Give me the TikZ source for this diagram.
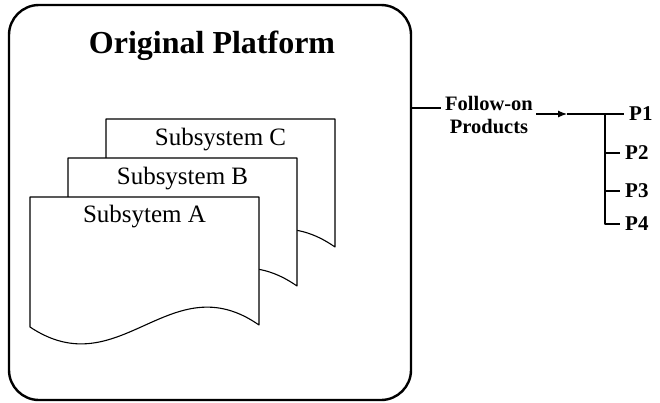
\documentclass[tikz,border=0pt]{standalone}
\usepackage{fontspec}
\setmainfont{Liberation Serif}
\usetikzlibrary{arrows.meta}

\tikzset{
  frameline/.style={line width=2.4pt},
  thinline/.style={line width=1.1pt},
  sheettext/.style={font=\fontsize{25}{30}\selectfont, anchor=base, inner sep=0pt},
  prodlabel/.style={font=\bfseries\fontsize{21}{24}\selectfont, anchor=west, inner xsep=5pt, inner ysep=0pt},
  % one document sheet with a wavy lower edge; origin at its top-left corner
  sheet/.pic={
    \path[draw, fill=white, thinline]
      (0,0) -- (229,0) -- (229,128)
      .. controls (140,66) and (90,190) .. (0,130) -- cycle;
  }
}

\begin{document}
\begin{tikzpicture}[x=1pt, y=-1pt, line join=round]
  \useasboundingbox (0,0) rectangle (660,402);

  % platform frame
  \node[draw, frameline, rounded corners=30pt,
        minimum width=402pt, minimum height=395pt, inner sep=0pt]
        (platform) at (210,202.5) {};
  \node[font=\bfseries\fontsize{32}{38}\selectfont, anchor=base, inner sep=0pt]
        (title) at (212,53) {Original Platform};

  % stacked subsystem sheets, back to front
  \pic at (106,119) {sheet};
  \node[sheettext] (subC) at (220.5,145) {Subsystem C};
  \pic at (68,158) {sheet};
  \node[sheettext] (subB) at (182.5,184) {Subsystem B};
  \pic at (30,197) {sheet};
  \node[sheettext] (subA) at (144.5,222) {Subsytem A};

  % follow-on products
  \node[align=center, font=\bfseries\fontsize{20.5}{23}\selectfont, inner sep=0pt]
        (follow) at (489,115) {Follow-on\\Products};
  \coordinate (inL) at (441,108);
  \coordinate (outR) at (536,114);
  \coordinate (tip) at (567,114);
  \coordinate (junc) at (605,114);

  \node[prodlabel] (p1) at (624,114) {P1};
  \node[prodlabel] (p2) at (620,153) {P2};
  \node[prodlabel] (p3) at (620,191) {P3};
  \node[prodlabel] (p4) at (620,224) {P4};

  \draw[thinline] (platform.east |- inL) -- (inL);
  \draw[thinline, -{Latex[length=9pt, width=7pt]}] (outR) -- (tip);
  \draw[thinline] (tip) -- (p1.west);
  \draw[thinline] (junc) |- (p4.west);
  \draw[thinline] (junc |- p2.west) -- (p2.west);
  \draw[thinline] (junc |- p3.west) -- (p3.west);
\end{tikzpicture}
\end{document}
